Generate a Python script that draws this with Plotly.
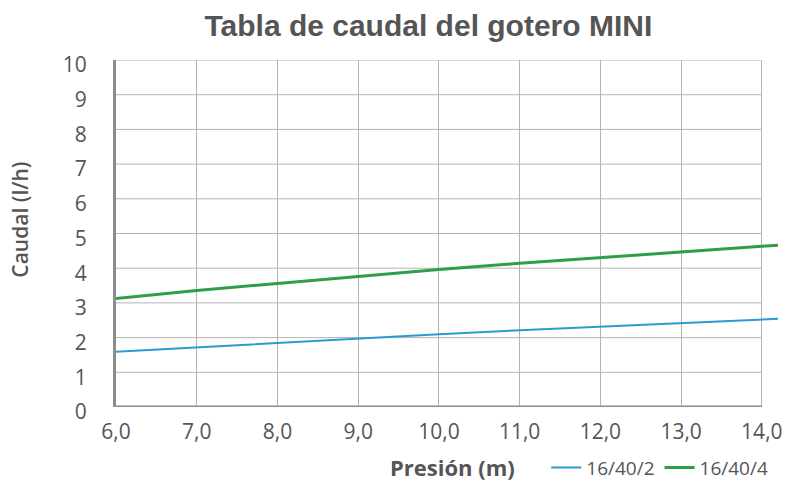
import plotly.graph_objects as go

# Data
presion = [6.0, 7.0, 8.0, 9.0, 10.0, 11.0, 12.0, 13.0, 14.0, 14.2]
caudal_16_40_2 = [1.59, 1.72, 1.86, 1.98, 2.10, 2.21, 2.32, 2.42, 2.52, 2.54]
caudal_16_40_4 = [3.13, 3.36, 3.56, 3.77, 3.96, 4.14, 4.31, 4.48, 4.63, 4.66]
series_names = ["16/40/2", "16/40/4"]

x_tickvals = [6, 7, 8, 9, 10, 11, 12, 13, 14]
x_ticktext = ["6,0", "7,0", "8,0", "9,0", "10,0", "11,0", "12,0", "13,0", "14,0"]
y_tickvals = [0, 1, 2, 3, 4, 5, 6, 7, 8, 9, 10]

TXT = "#555555"
GRID = "#b4b4b4"

fig = go.Figure()
fig.add_trace(go.Scatter(x=presion, y=caudal_16_40_2, mode="lines", name=series_names[0],
                         line=dict(color="#2b9bd3", width=2)))
fig.add_trace(go.Scatter(x=presion, y=caudal_16_40_4, mode="lines", name=series_names[1],
                         line=dict(color="#2f9e49", width=3)))

# horizontal gridlines limited to the 6..14 grid
for v in y_tickvals[1:]:
    fig.add_shape(type="line", xref="x", yref="y", x0=x_tickvals[0], x1=x_tickvals[-1], y0=v, y1=v,
                  line=dict(color=GRID, width=1), layer="below")
# bottom axis line
fig.add_shape(type="line", xref="x", yref="y", x0=x_tickvals[0], x1=x_tickvals[-1], y0=0, y1=0,
              line=dict(color="#8c8c8c", width=3), layer="above")

fig.update_layout(
    width=786, height=481,
    margin=dict(l=116, r=8, t=60, b=74),
    paper_bgcolor="white", plot_bgcolor="white",
    title=dict(text="<b>Tabla de caudal del gotero MINI</b>", x=0.545, xref="container", xanchor="center",
               y=0.948, yref="container", yanchor="middle",
               font=dict(family="Liberation Sans, Arial", size=30, color=TXT)),
    xaxis=dict(range=[6, 14.2], tickvals=x_tickvals, ticktext=x_ticktext, automargin=False,
               showgrid=True, gridcolor=GRID, gridwidth=1, zeroline=False, showline=False,
               ticks="outside", ticklen=6, tickcolor="rgba(0,0,0,0)",
               tickfont=dict(family="Open Sans", size=21, color=TXT)),
    yaxis=dict(range=[0, 10], tickvals=y_tickvals, showgrid=False, zeroline=False, automargin=False,
               showline=True, linecolor="#8c8c8c", linewidth=3,
               ticks="outside", ticklen=22, tickcolor="rgba(0,0,0,0)", ticklabelshift=5,
               tickfont=dict(family="Open Sans", size=21, color=TXT)),
    showlegend=True,
    legend=dict(orientation="h", xref="container", yref="container", x=0.695, y=0.028,
                xanchor="left", yanchor="middle", bgcolor="rgba(0,0,0,0)",
                font=dict(family="Open Sans", size=19, color=TXT), itemwidth=30,
                tracegroupgap=0),
)

fig.add_annotation(text="Caudal (l/h)", xref="paper", yref="paper", x=-0.145, y=0.54,
                   xanchor="center", yanchor="middle", textangle=-90, showarrow=False,
                   font=dict(family="Open Sans", size=21, color=TXT, weight=600))
fig.add_annotation(text="<b>Presión (m)</b>", xref="paper", yref="paper", x=0.508, y=-0.172,
                   xanchor="center", yanchor="middle", showarrow=False,
                   font=dict(family="Open Sans", size=22, color=TXT))

fig.write_html("out.html", config={"displayModeBar": False},
               post_script="document.body.style.margin='0px';document.body.style.overflow='hidden';")
